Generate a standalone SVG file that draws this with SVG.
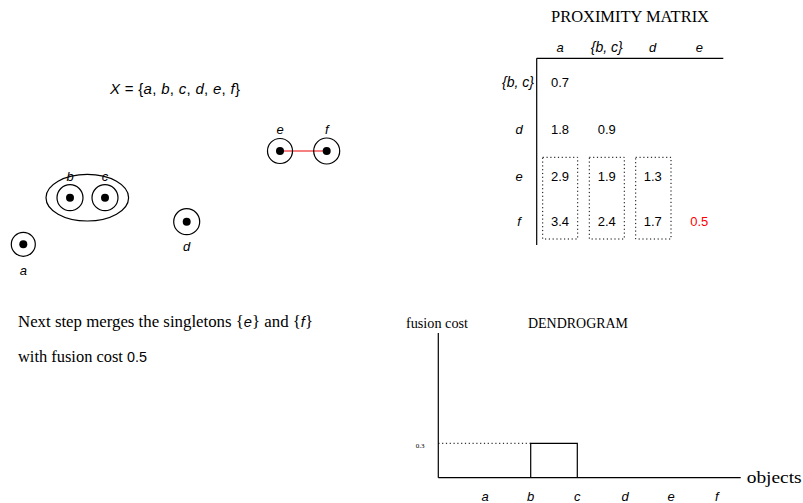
<svg xmlns="http://www.w3.org/2000/svg" width="803" height="503" viewBox="0 0 803 503">
<style>
.m{font-family:"Liberation Sans","DejaVu Sans",sans-serif;font-style:italic;font-size:13px;text-anchor:middle;fill:#000}
.n{font-family:"Liberation Sans","DejaVu Sans",sans-serif;font-size:13px;text-anchor:middle;fill:#000}
.s{font-family:"Liberation Serif","DejaVu Serif",serif;font-size:16px;fill:#000}
.ss{font-family:"Liberation Sans","DejaVu Sans",sans-serif;font-size:14px}
.ring{fill:#fff;stroke:#000;stroke-width:1.2}
.dot{fill:#000}
.ln{stroke:#000;stroke-width:1.2;fill:none}
.dt{stroke:#000;stroke-width:1;fill:none;stroke-dasharray:1.2 2.6}
</style>
<rect width="803" height="503" fill="#fff"/>
<g id="title-set">
<text x="110" y="94" textLength="130" lengthAdjust="spacing" style="font-family:'Liberation Sans',sans-serif;font-size:15px"><tspan font-style="italic">X</tspan> = {<tspan font-style="italic">a</tspan>, <tspan font-style="italic">b</tspan>, <tspan font-style="italic">c</tspan>, <tspan font-style="italic">d</tspan>, <tspan font-style="italic">e</tspan>, <tspan font-style="italic">f</tspan>}</text>
</g>
<g id="connectors">
<line x1="281" y1="151" x2="327" y2="151" stroke="#e00" stroke-width="1.2"/>
</g>
<g id="cluster-bc">
<ellipse cx="87.3" cy="197.7" rx="41.3" ry="23.3" class="ln"/>
</g>
<g id="node-b">
<circle cx="70" cy="197.7" r="13" class="ring"/><circle cx="70" cy="197.7" r="4" class="dot"/>
<text x="70" y="181" class="m">b</text>
</g>
<g id="node-c">
<circle cx="105" cy="197.7" r="13" class="ring"/><circle cx="105" cy="197.7" r="4" class="dot"/>
<text x="105" y="181" class="m">c</text>
</g>
<g id="node-a">
<circle cx="23.3" cy="244.3" r="12" class="ring"/><circle cx="23.3" cy="244.3" r="4" class="dot"/>
<text x="23.3" y="275" class="m">a</text>
</g>
<g id="node-d">
<circle cx="186.7" cy="221.7" r="13" class="ring"/><circle cx="186.7" cy="221.7" r="4" class="dot"/>
<text x="186.7" y="251" class="m">d</text>
</g>
<g id="node-e">
<circle cx="280" cy="151" r="12.5" class="ring" fill-opacity="0"/><circle cx="280" cy="151" r="4" class="dot"/>
<text x="280" y="134" class="m">e</text>
</g>
<g id="node-f">
<circle cx="326.7" cy="151" r="13" class="ring" fill-opacity="0"/><circle cx="326.7" cy="151" r="4" class="dot"/>
<text x="326.7" y="134" class="m">f</text>
</g>
<g id="proximity-matrix">
<text x="551" y="22" class="s" textLength="158" lengthAdjust="spacingAndGlyphs">PROXIMITY MATRIX</text>
<text x="560" y="52" class="m">a</text>
<text x="606.7" y="52" class="m" style="font-size:14px">{b, c}</text>
<text x="652.7" y="52" class="m">d</text>
<text x="699.3" y="52" class="m">e</text>
<line x1="536.7" y1="58.3" x2="723.3" y2="58.3" class="ln"/>
<line x1="536.7" y1="58.3" x2="536.7" y2="245" class="ln"/>
<text x="518" y="87" class="m" style="font-size:14px">{b, c}</text>
<text x="519" y="134" class="m">d</text>
<text x="519" y="181" class="m">e</text>
<text x="519" y="226" class="m">f</text>
<text x="560" y="87" class="n">0.7</text>
<text x="560" y="134" class="n">1.8</text>
<text x="606.7" y="134" class="n">0.9</text>
<text x="560" y="181" class="n">2.9</text>
<text x="606.7" y="181" class="n">1.9</text>
<text x="652.7" y="181" class="n">1.3</text>
<text x="560" y="226" class="n">3.4</text>
<text x="606.7" y="226" class="n">2.4</text>
<text x="652.7" y="226" class="n">1.7</text>
<text x="699.3" y="226" class="n" style="fill:#f00">0.5</text>
<rect x="542.7" y="157.3" width="35" height="81.7" class="dt"/>
<rect x="589.3" y="157.3" width="35" height="81.7" class="dt"/>
<rect x="635.7" y="157.3" width="35.3" height="81.7" class="dt"/>
</g>
<g id="caption">
<text x="18" y="327" class="s" textLength="295" lengthAdjust="spacingAndGlyphs">Next step merges the singletons {<tspan class="ss" font-style="italic">e</tspan>} and {<tspan class="ss" font-style="italic">f</tspan>}</text>
<text x="18" y="362" class="s" textLength="129" lengthAdjust="spacingAndGlyphs">with fusion cost <tspan class="ss">0.5</tspan></text>
</g>
<g id="dendrogram">
<text x="406" y="328" class="s" style="font-size:14px" textLength="62" lengthAdjust="spacingAndGlyphs">fusion cost</text>
<text x="528" y="328" class="s" style="font-size:14px" textLength="100" lengthAdjust="spacingAndGlyphs">DENDROGRAM</text>
<line x1="438.3" y1="333" x2="438.3" y2="477.7" class="ln"/>
<line x1="438.3" y1="477.7" x2="740.7" y2="477.7" class="ln"/>
<text x="746.7" y="483" class="s" style="font-size:16px" textLength="55" lengthAdjust="spacingAndGlyphs">objects</text>
<text x="420" y="448" class="s" text-anchor="middle" style="font-size:7px">0.3</text>
<line x1="438.3" y1="443.3" x2="530.7" y2="443.3" class="dt"/>
<polyline points="530.7,477.7 530.7,443.3 577.3,443.3 577.3,477.7" class="ln"/>
<text x="485" y="501" class="m">a</text>
<text x="530.7" y="501" class="m">b</text>
<text x="577.3" y="501" class="m">c</text>
<text x="625" y="501" class="m">d</text>
<text x="671" y="501" class="m">e</text>
<text x="716.7" y="501" class="m">f</text>
</g>
</svg>
